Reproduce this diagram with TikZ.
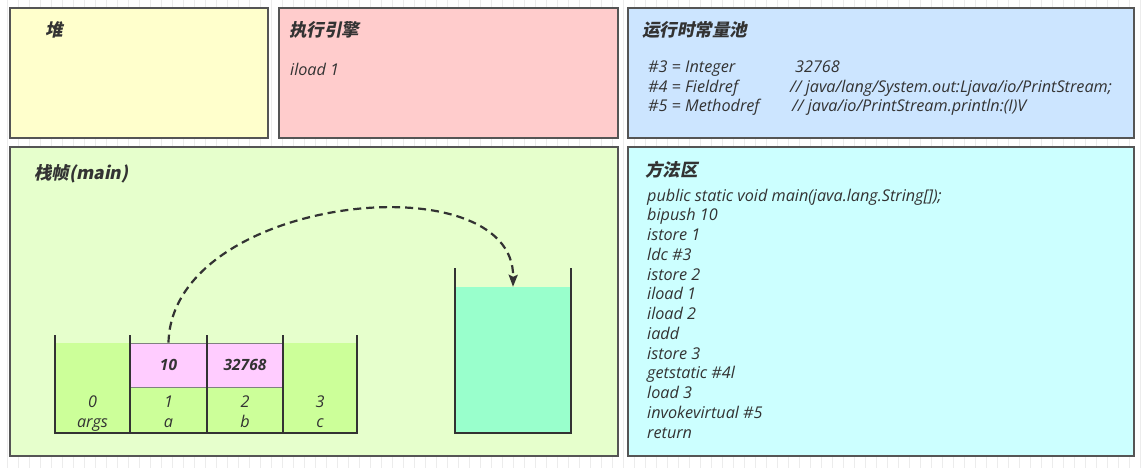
\documentclass[tikz,border=0pt]{standalone}
\usepackage{fontspec}
\setmainfont{Open Sans}
\newfontfamily\cjk[FakeSlant=0.2]{Noto Sans CJK SC}
\usetikzlibrary{arrows.meta}
\definecolor{inkgray}{HTML}{333333}
\definecolor{panelline}{HTML}{555555}
\definecolor{heapfill}{HTML}{FFFFCC}
\definecolor{enginefill}{HTML}{FFCCCC}
\definecolor{poolfill}{HTML}{CCE5FF}
\definecolor{framefill}{HTML}{E6FFCC}
\definecolor{methodfill}{HTML}{CCFFFF}
\definecolor{slotgreen}{HTML}{CCFF99}
\definecolor{slotpink}{HTML}{FFCCFF}
\definecolor{stackfill}{HTML}{99FFCC}

\begin{document}
\begin{tikzpicture}[x=1pt,y=-1pt,
  panel/.style={draw=panelline,line width=1.2pt},
  title/.style={anchor=base west,inner sep=0pt,text=inkgray,font=\cjk\bfseries\fontsize{17.5}{20}\selectfont},
  code/.style={anchor=base west,inner sep=0pt,text=inkgray,font=\itshape\fontsize{16.2}{19}\selectfont},
  cell/.style={draw=gray,line width=0.8pt,fill=slotpink,minimum height=44pt,inner sep=0pt,text=inkgray,font=\bfseries\itshape\fontsize{15.5}{18}\selectfont},
  wall/.style={draw=inkgray,line width=2pt},
  flow/.style={draw=inkgray,line width=2.2pt,dash pattern=on 8pt off 5pt,-{Stealth[length=12pt,width=9pt,inset=2pt]}}]
\useasboundingbox (0,0) rectangle (1144,468);
\fill[white] (0,0) rectangle (1144,468);
\draw[gray!15,line width=0.6pt,shift={(7,7)}] (-7,-7) grid[step=11] (1144,468);

% panels
\draw[panel,fill=heapfill] (10,8) rectangle (268,138);
\draw[panel,fill=enginefill] (279,8) rectangle (618,138);
\draw[panel,fill=poolfill] (628,8) rectangle (1134,138);
\draw[panel,fill=framefill] (10,147) rectangle (618,456);
\draw[panel,fill=methodfill] (628,147) rectangle (1134,456);

\node[title] (heap) at (45,37) {堆};
\node[title] (engine) at (289,37) {执行引擎};
\node[title] (pool) at (642,37) {运行时常量池};
\node[title] (frame) at (34,180) {栈帧(main)};
\node[title] (method) at (645,177) {方法区};

\node[code] (cur) at (290,76) {iload 1};

% constant pool
\node[code] (c3) at (648,73) {\#3 = Integer};
\node[code] (c4) at (648,93) {\#4 = Fieldref};
\node[code] (c5) at (648,112) {\#5 = Methodref};
\node[code] (v3) at (795,73) {32768};
\node[code] (v4) at (790,93) {// java/lang/System.out:Ljava/io/PrintStream;};
\node[code] (v5) at (792,112) {// java/io/PrintStream.println:(I)V};

% bytecode
\foreach \op [count=\k from 0] in {{public static void main(java.lang.String[]);},{bipush 10},{istore 1},{ldc \#3},{istore 2},{iload 1},{iload 2},{iadd},{istore 3},{getstatic \#4l},{load 3},{invokevirtual \#5},{return}}
  \node[code] (op\k) at (647,201+19.75*\k) {\op};

% local variables
\fill[slotgreen] (55,343) rectangle (357,433);
\node[cell,minimum width=77pt] (s1) at (168.5,365) {10};
\node[cell,minimum width=76pt] (s2) at (245,365) {32768};
\foreach \i/\n/\x in {0/args/92.5,1/a/168.5,2/b/245,3/c/320} {
  \node[code,anchor=base] (idx\i) at (\x,407) {\i};
  \node[code,anchor=base] (var\i) at (\x,427) {\n};
}
\draw[wall] (55,335) |- (357,433) -- (357,335);
\foreach \x in {130,207,283}
  \draw[wall] (\x,335) -- (\x,433);

% operand stack
\node[fill=stackfill,minimum width=116pt,minimum height=146pt,inner sep=0pt] (ostack) at (513,360) {};
\draw[wall] (455,268) |- (571,433) -- (571,268);

\draw[flow] (s1.north) .. controls (172,195) and (515,160) .. (ostack.north);
\end{tikzpicture}
\end{document}
